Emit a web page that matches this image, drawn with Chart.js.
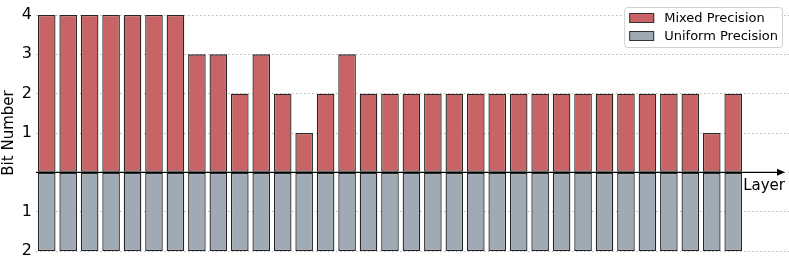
<!DOCTYPE html>
<html>
<head>
<meta charset="utf-8">
<script src="https://cdn.jsdelivr.net/npm/chart.js@4.4.0/dist/chart.umd.min.js"></script>
<style>
  html, body { margin: 0; padding: 0; background: #fff; }
  #wrap { width: 789px; height: 267px; }
</style>
</head>
<body>
<div id="wrap"><canvas id="c"></canvas></div>
<script>
const layers = [];
for (let i = 1; i <= 33; i++) layers.push(i);

const mixedBits = [4, 4, 4, 4, 4, 4, 4, 3, 3, 2, 3, 2, 1, 2, 3,
                   2, 2, 2, 2, 2, 2, 2, 2, 2, 2, 2, 2, 2, 2, 2, 2, 1, 2];
const uniformBits = [2, 2, 2, 2, 2, 2, 2, 2, 2, 2, 2, 2, 2, 2, 2,
                     2, 2, 2, 2, 2, 2, 2, 2, 2, 2, 2, 2, 2, 2, 2, 2, 2, 2];
const yTicks = [-2, -1, 0, 1, 2, 3, 4];

const FONT = "'DejaVu Sans', sans-serif";

// zero axis with arrow + "Layer" label, drawn over the bars
const axisArrow = {
    id: 'axisArrow',
    afterDatasetsDraw(chart) {
        const ctx = chart.ctx;
        const area = chart.chartArea;
        const y0 = chart.scales.y.getPixelForValue(0);
        const xEnd = area.right - 4;
        ctx.save();
        ctx.strokeStyle = '#000';
        ctx.lineWidth = 1.2;
        ctx.beginPath();
        ctx.moveTo(area.left, y0);
        ctx.lineTo(xEnd - 6, y0);
        ctx.stroke();
        ctx.fillStyle = '#000';
        ctx.beginPath();
        ctx.moveTo(xEnd, y0);
        ctx.lineTo(xEnd - 8, y0 - 3.5);
        ctx.lineTo(xEnd - 8, y0 + 3.5);
        ctx.closePath();
        ctx.fill();
        ctx.font = '15px ' + FONT;
        ctx.textAlign = 'right';
        ctx.textBaseline = 'top';
        ctx.fillText('Layer', xEnd, y0 + 6);
        ctx.restore();
    }
};

// legend box in the upper right corner
const cornerLegend = {
    id: 'cornerLegend',
    afterDraw(chart) {
        const ctx = chart.ctx;
        const sets = chart.data.datasets;
        ctx.save();
        ctx.font = '13px ' + FONT;
        let w = 0;
        sets.forEach(d => { w = Math.max(w, ctx.measureText(d.label).width); });
        const boxW = w + 44;
        const boxH = 40;
        const bx = chart.width - boxW - 7;
        const by = 7;
        ctx.fillStyle = 'rgba(255,255,255,0.85)';
        ctx.strokeStyle = '#d0d0d0';
        ctx.lineWidth = 1;
        ctx.beginPath();
        ctx.roundRect(bx + 0.5, by + 0.5, boxW, boxH, 3);
        ctx.fill();
        ctx.stroke();
        sets.forEach((d, i) => {
            const cy = by + 11 + i * 18;
            ctx.fillStyle = d.backgroundColor;
            ctx.strokeStyle = '#333';
            ctx.lineWidth = 1;
            ctx.fillRect(bx + 5, cy - 5, 25, 10);
            ctx.strokeRect(bx + 5.5, cy - 4.5, 24, 9);
            ctx.fillStyle = '#000';
            ctx.textAlign = 'left';
            ctx.textBaseline = 'middle';
            ctx.fillText(d.label, bx + 40, cy + 1);
        });
        ctx.restore();
    }
};

new Chart(document.getElementById('c'), {
    type: 'bar',
    data: {
        datasets: [{
            label: 'Mixed Precision',
            data: layers.map((l, i) => ({ x: l, y: mixedBits[i] })),
            backgroundColor: '#c86465',
            borderColor: '#262626',
            borderWidth: 1.3,
            borderSkipped: false
        }, {
            label: 'Uniform Precision',
            data: layers.map((l, i) => ({ x: l, y: -uniformBits[i] })),
            backgroundColor: '#a0aab5',
            borderColor: '#262626',
            borderWidth: 1.3,
            borderSkipped: false
        }]
    },
    options: {
        responsive: true,
        maintainAspectRatio: false,
        animation: false,
        layout: { padding: { top: 15, bottom: 16, right: 0 } },
        datasets: { bar: { categoryPercentage: 1, barPercentage: 0.82 } },
        plugins: {
            legend: { display: false },
            tooltip: { enabled: false }
        },
        scales: {
            x: {
                type: 'linear',
                stacked: true,
                offset: false,
                min: 0.5,
                max: 35.6,
                display: false
            },
            y: {
                stacked: true,
                min: -2,
                max: 4,
                afterBuildTicks: (scale) => { scale.ticks = yTicks.map(v => ({ value: v })); },
                afterFit: (scale) => { scale.width = 36; },
                ticks: {
                    color: '#000',
                    padding: 4,
                    font: { family: FONT, size: 16 },
                    callback: (v) => v === 0 ? '' : String(Math.abs(v))
                },
                grid: {
                    color: '#b8b8b8',
                    lineWidth: 1,
                    drawTicks: false
                },
                border: { display: false, dash: [1.5, 2.5] },
                title: {
                    display: true,
                    text: 'Bit Number',
                    color: '#000',
                    padding: 0,
                    font: { family: FONT, size: 15 }
                }
            }
        }
    },
    plugins: [axisArrow, cornerLegend]
});
</script>
</body>
</html>
